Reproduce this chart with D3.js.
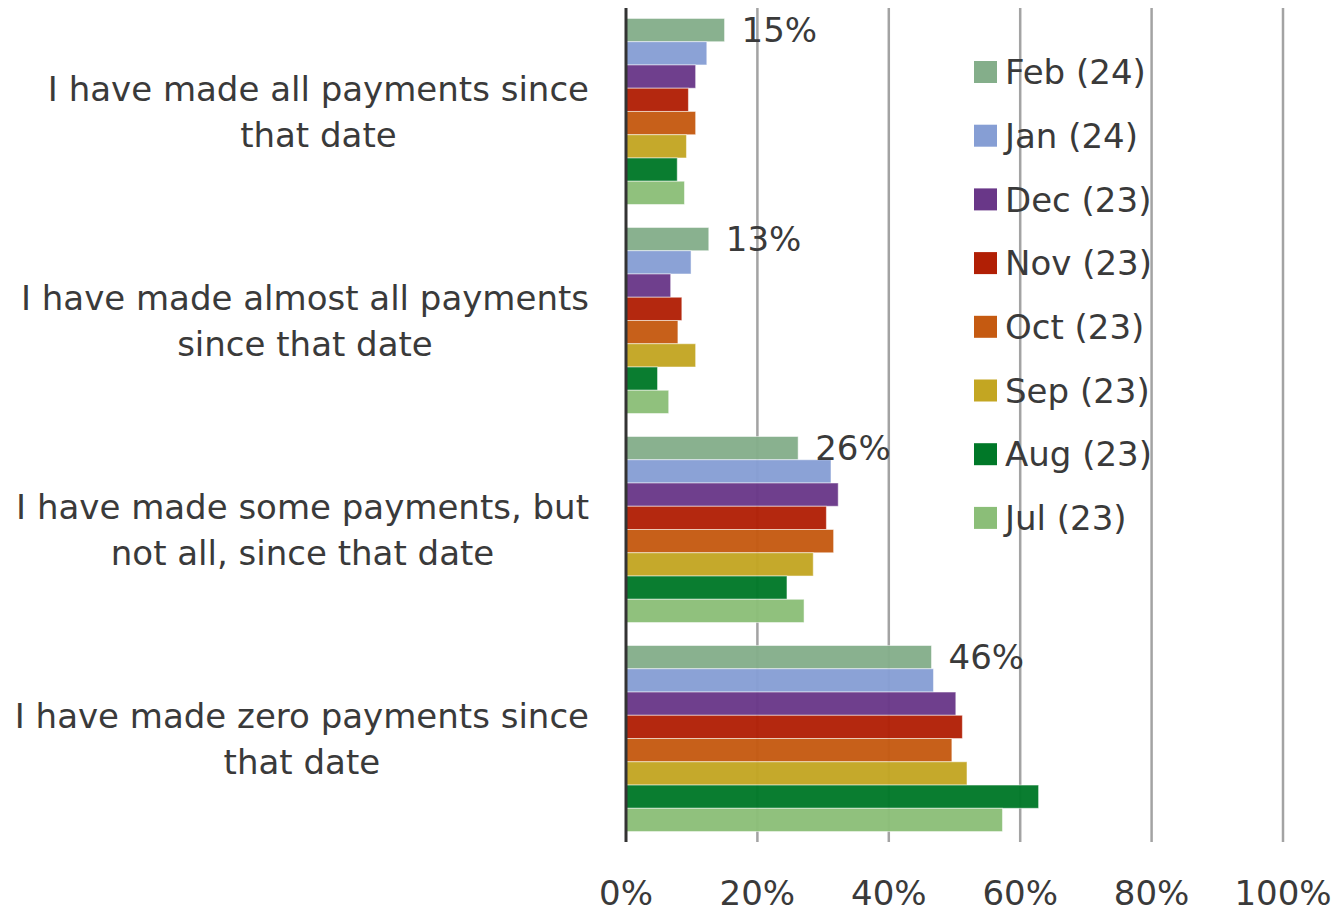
<!DOCTYPE html>
<html>
<head>
<meta charset="utf-8">
<script src="https://cdn.jsdelivr.net/npm/d3@7"></script>
<style>
  body { margin: 0; background: #fff; }
  text { font-family: "DejaVu Sans", sans-serif; fill: #3a3a3a; }
</style>
</head>
<body>
<div id="chart"></div>
<script>
// categories (top to bottom), each label split into its two lines
var categories = [
  ["I have made all payments since", "that date"],
  ["I have made almost all payments", "since that date"],
  ["I have made some payments, but", "not all, since that date"],
  ["I have made zero payments since", "that date"]
];

// series, drawn top to bottom inside each group
var series = ["Feb (24)", "Jan (24)", "Dec (23)", "Nov (23)", "Oct (23)", "Sep (23)", "Aug (23)", "Jul (23)"];
var colors = ["#84ae8a", "#869ed4", "#693788", "#b11f05", "#c55a11", "#c3a622", "#007828", "#8bbe78"];

// percent values, one array per series, in category order
var feb24 = [15.0, 12.6, 26.2, 46.5];
var jan24 = [12.3, 9.9, 31.2, 46.8];
var dec23 = [10.6, 6.8, 32.3, 50.2];
var nov23 = [9.5, 8.5, 30.5, 51.2];
var oct23 = [10.6, 7.9, 31.6, 49.6];
var sep23 = [9.2, 10.6, 28.5, 51.9];
var aug23 = [7.8, 4.8, 24.5, 62.8];
var jul23 = [8.9, 6.5, 27.1, 57.3];
var values = [feb24, jan24, dec23, nov23, oct23, sep23, aug23, jul23];

// only the latest month gets labels
var febLabels = ["15%", "13%", "26%", "46%"];

var ticks = [0, 20, 40, 60, 80, 100];

const width = 1338, height = 912;

const svg = d3.select("#chart")
  .append("svg")
    .attr("width", width)
    .attr("height", height);

// x scale: 0..100 %
const x = d3.scaleLinear()
  .domain([0, 100])
  .range([626, 1283]);

// category bands
const y = d3.scaleBand()
  .domain(d3.range(categories.length))
  .range([8, 842])
  .paddingInner(0.11)
  .paddingOuter(0.05);

// series bands inside a category
const ys = d3.scaleBand()
  .domain(d3.range(series.length))
  .range([0, y.bandwidth()]);

// gridlines
svg.append("g")
  .selectAll("line")
  .data(ticks.slice(1))
  .join("line")
    .attr("x1", d => x(d))
    .attr("x2", d => x(d))
    .attr("y1", 8)
    .attr("y2", 842)
    .attr("stroke", "#a3a3a3")
    .attr("stroke-width", 2.5);

// bars
const groups = svg.append("g")
  .selectAll("g")
  .data(categories)
  .join("g")
    .attr("transform", (d, i) => `translate(0, ${y(i)})`);

groups.selectAll("rect")
  .data((d, i) => values.map((v, s) => ({s: s, v: v[i]})))
  .join("rect")
    .attr("x", x(0))
    .attr("y", d => ys(d.s))
    .attr("width", d => x(d.v) - x(0))
    .attr("height", ys.bandwidth())
    .attr("fill", d => colors[d.s])
    .attr("fill-opacity", 0.96)
    .attr("stroke", "#ffffff")
    .attr("stroke-opacity", 0.5)
    .attr("stroke-width", 1);

// value labels for Feb (24)
groups.append("text")
  .attr("x", (d, i) => x(feb24[i]) + 17)
  .attr("y", ys(0) + ys.bandwidth() / 2)
  .attr("dy", "0.36em")
  .style("font-size", "34px")
  .text((d, i) => febLabels[i]);

// vertical axis line
svg.append("line")
  .attr("x1", x(0))
  .attr("x2", x(0))
  .attr("y1", 8)
  .attr("y2", 842)
  .attr("stroke", "#333")
  .attr("stroke-width", 3);

// category labels: block right-aligned, lines centred within the block
groups.each(function(lines, i) {
  const g = d3.select(this);
  const cy = y.bandwidth() / 2;
  const t = g.selectAll("text.cat")
    .data(lines)
    .join("text")
      .attr("class", "cat")
      .attr("text-anchor", "middle")
      .attr("y", (d, k) => cy + (k - 0.5) * 46)
      .attr("dy", "0.36em")
      .style("font-size", "34px")
      .text(d => d);
  let maxW = 0;
  t.each(function() { maxW = Math.max(maxW, this.getComputedTextLength()); });
  t.attr("x", 589 - maxW / 2);
});

// x tick labels
svg.append("g")
  .selectAll("text")
  .data(ticks)
  .join("text")
    .attr("x", d => x(d))
    .attr("y", 893)
    .attr("dy", "0.36em")
    .attr("text-anchor", "middle")
    .style("font-size", "34px")
    .text(d => d + "%");

// legend
const legend = svg.append("g")
  .selectAll("g")
  .data(series)
  .join("g")
    .attr("transform", (d, i) => `translate(974, ${72 + i * 63.7})`);

legend.append("rect")
  .attr("x", 0)
  .attr("y", -11)
  .attr("width", 23)
  .attr("height", 22)
  .attr("fill", (d, i) => colors[i]);

legend.append("text")
  .attr("x", 31)
  .attr("dy", "0.36em")
  .style("font-size", "34px")
  .text(d => d);
</script>
</body>
</html>
